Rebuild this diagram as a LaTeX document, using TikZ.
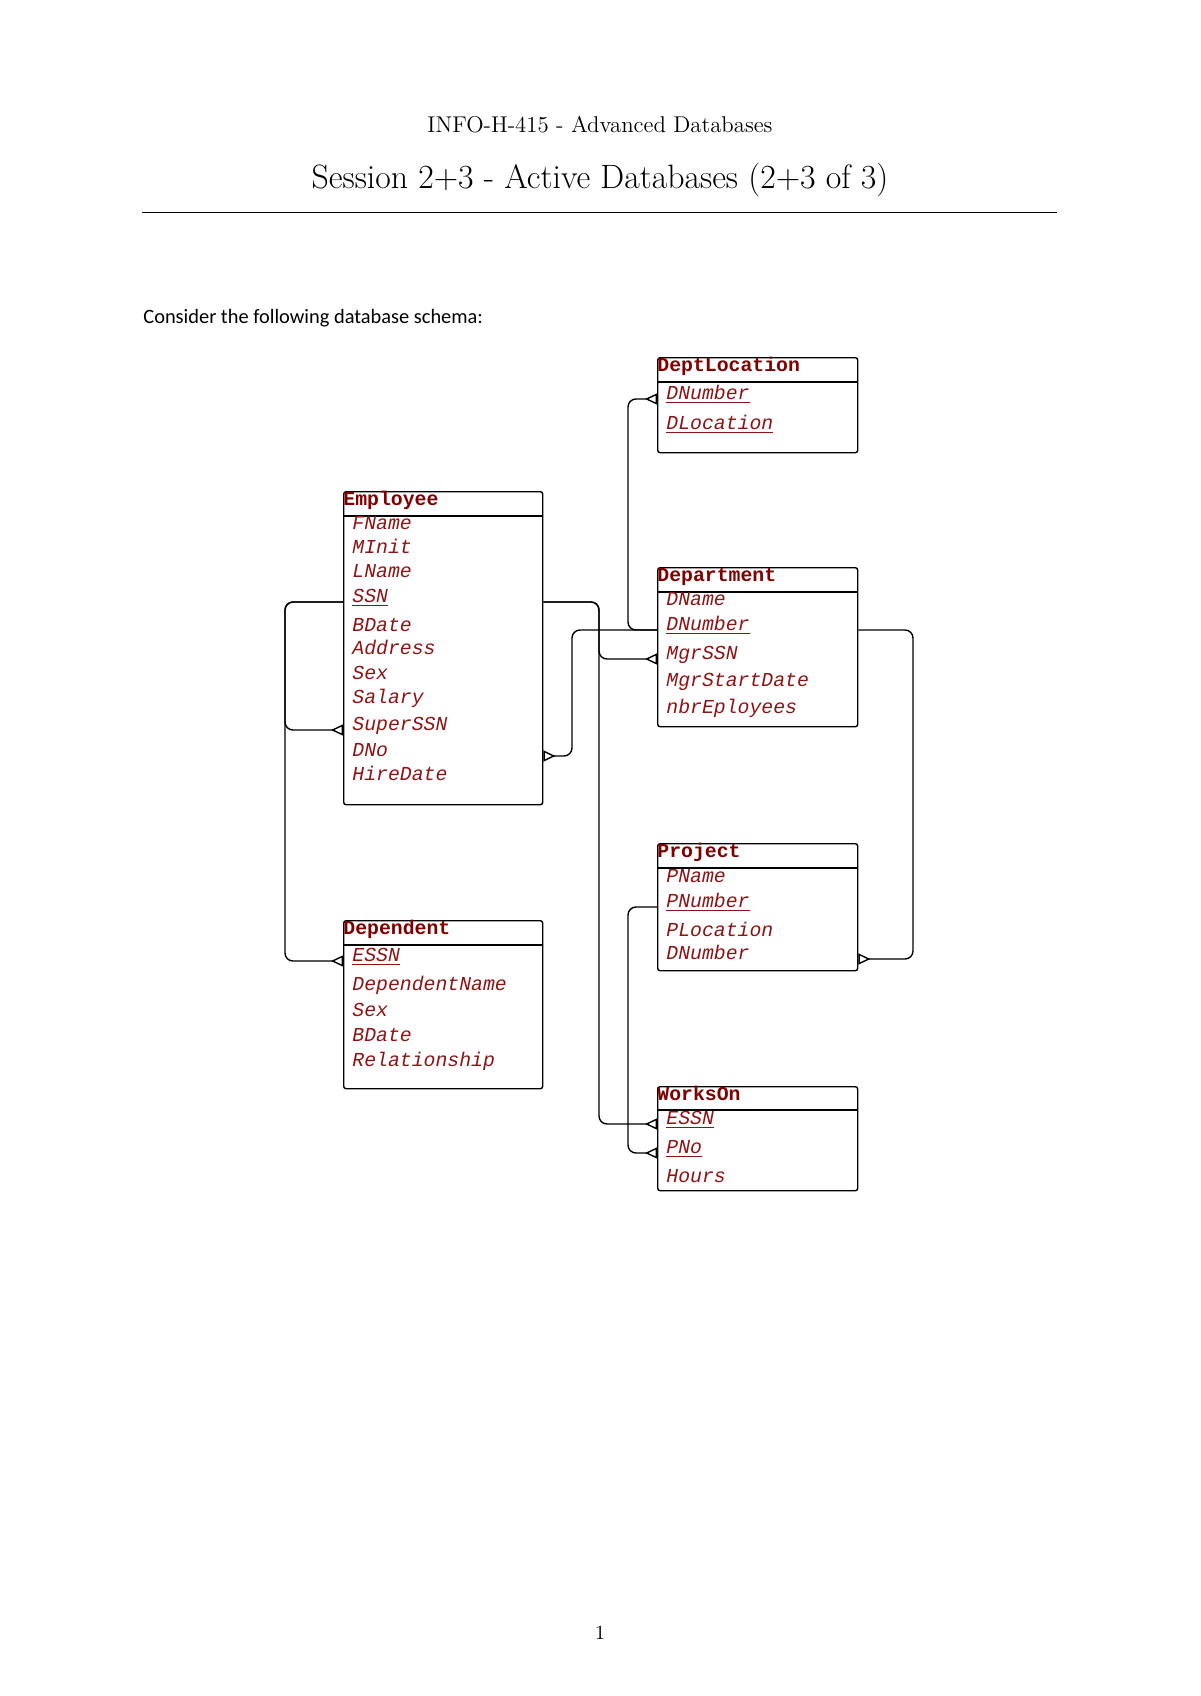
\documentclass[tikz,border=0pt]{standalone}
\usepackage{fontspec}
\newfontfamily\erfont{Liberation Mono}
\newfontfamily\sansf{Carlito}
\usetikzlibrary{arrows.meta}
\definecolor{erred}{RGB}{140,20,20}
\definecolor{ertitle}{RGB}{128,0,0}
\tikzset{
 ent/.style={draw, line width=0.7pt, rounded corners=1.2pt, anchor=north west, minimum width=100pt, inner sep=0pt},
 hline/.style={line width=0.7pt},
 etitle/.style={anchor=base west, inner sep=0pt, text=ertitle, font=\erfont\bfseries\fontsize{9.9}{12}\selectfont},
 attr/.style={anchor=base west, inner sep=0pt, text=erred, font=\erfont\itshape\fontsize{9.9}{12}\selectfont},
 conn/.style={line width=0.7pt, rounded corners=4pt},
 crow/.style={-{Triangle[open,reversed,length=6pt,width=5.5pt]}},
}
\begin{document}
\begin{tikzpicture}[x=0.5pt,y=-0.5pt]
\useasboundingbox (0,0) rectangle (1200,1696);
% page header
\node[font=\fontsize{11.4}{13}\selectfont, anchor=base, inner sep=0pt] (hdr) at (600,133) {INFO-H-415 - Advanced Databases};
\node[font=\fontsize{16.9}{20}\selectfont, anchor=base, inner sep=0pt] (ttl) at (600,189) {Session 2+3 - Active Databases (2+3 of 3)};
\draw[line width=0.8pt] (142,212.5) -- (1057,212.5);
\node[font=\sansf\fontsize{10.2}{12}\selectfont, anchor=base west, inner sep=0pt] (intro) at (143,323) {Consider the following database schema:};
\node[font=\fontsize{10}{12}\selectfont, anchor=base, inner sep=0pt] (pg) at (600,1639) {1};

% DeptLocation
\node[ent, minimum height=47.5pt] (dl) at (657,357) {};
\draw[hline] ([yshift=-12.5pt]dl.north west) -- ([yshift=-12.5pt]dl.north east);
\node[etitle] (dl-t) at (657,371) {DeptLocation};
\node[attr] (dl-dnum) at (666,399) {\underline{DNumber}};
\node[attr] (dl-dloc) at (666,429) {\underline{DLocation}};

% Employee
\node[ent, minimum width=99.5pt, minimum height=156.5pt] (emp) at (343,491) {};
\draw[hline] ([yshift=-12.5pt]emp.north west) -- ([yshift=-12.5pt]emp.north east);
\node[etitle] (emp-t) at (343,505) {Employee};
\node[attr] (emp-fname) at (352,529) {FName};
\node[attr] (emp-minit) at (352,553) {MInit};
\node[attr] (emp-lname) at (352,577) {LName};
\node[attr] (emp-ssn) at (352,602) {\underline{SSN}};
\node[attr] (emp-bdate) at (352,631) {BDate};
\node[attr] (emp-addr) at (352,654) {Address};
\node[attr] (emp-sex) at (352,679) {Sex};
\node[attr] (emp-sal) at (352,703) {Salary};
\node[attr] (emp-super) at (352,730) {SuperSSN};
\node[attr] (emp-dno) at (352,756) {DNo};
\node[attr] (emp-hire) at (352,780) {HireDate};

% Department
\node[ent, minimum height=79.5pt] (dept) at (657,567) {};
\draw[hline] ([yshift=-12.5pt]dept.north west) -- ([yshift=-12.5pt]dept.north east);
\node[etitle] (dept-t) at (657,581) {Department};
\node[attr] (dept-dname) at (666,605) {DName};
\node[attr] (dept-dnum) at (666,630) {\underline{DNumber}};
\node[attr] (dept-mgr) at (666,659) {MgrSSN};
\node[attr] (dept-mgrsd) at (666,686) {MgrStartDate};
\node[attr] (dept-nbr) at (666,713) {nbrEployees};

% Project
\node[ent, minimum height=63.5pt] (proj) at (657,843) {};
\draw[hline] ([yshift=-12.5pt]proj.north west) -- ([yshift=-12.5pt]proj.north east);
\node[etitle] (proj-t) at (657,857) {Project};
\node[attr] (proj-pname) at (666,882) {PName};
\node[attr] (proj-pnum) at (666,907) {\underline{PNumber}};
\node[attr] (proj-ploc) at (666,936) {PLocation};
\node[attr] (proj-dnum) at (666,959) {DNumber};

% Dependent
\node[ent, minimum width=99.5pt, minimum height=84pt] (dep) at (343,920) {};
\draw[hline] ([yshift=-12.5pt]dep.north west) -- ([yshift=-12.5pt]dep.north east);
\node[etitle] (dep-t) at (343,934) {Dependent};
\node[attr] (dep-essn) at (352,961) {\underline{ESSN}};
\node[attr] (dep-name) at (352,990) {DependentName};
\node[attr] (dep-sex) at (352,1016) {Sex};
\node[attr] (dep-bdate) at (352,1041) {BDate};
\node[attr] (dep-rel) at (352,1066) {Relationship};

% WorksOn
\node[ent, minimum height=52pt] (won) at (657,1086) {};
\draw[hline] ([yshift=-12pt]won.north west) -- ([yshift=-12pt]won.north east);
\node[etitle] (won-t) at (657,1100) {WorksOn};
\node[attr] (won-essn) at (666,1124) {\underline{ESSN}};
\node[attr] (won-pno) at (666,1153) {\underline{PNo}};
\node[attr] (won-hours) at (666,1182) {Hours};

% bus coordinates
\coordinate (lbus) at (285,0);
\coordinate (rbus) at (599,0);
\coordinate (mbus) at (572,0);
\coordinate (dbus) at (628,0);
\coordinate (ebus) at (913,0);

% connectors
\draw[conn,crow] (emp.west |- emp-ssn.base) -| (lbus |- emp-super.base) -- (emp.west |- emp-super.base);
\draw[conn,crow] (emp.west |- emp-ssn.base) -| (lbus |- dep-essn.base) -- (dep.west |- dep-essn.base);
\draw[conn,crow] (emp.east |- emp-ssn.base) -| (rbus |- dept-mgr.base) -- (dept.west |- dept-mgr.base);
\draw[conn,crow] (emp.east |- emp-ssn.base) -| (rbus |- won-essn.base) -- (won.west |- won-essn.base);
\draw[conn,crow] (dept.west |- dept-dnum.base) -| (mbus |- emp-dno.base) -- (emp.east |- emp-dno.base);
\draw[conn,crow] (dept.west |- dept-dnum.base) -| (dbus |- dl-dnum.base) -- (dl.west |- dl-dnum.base);
\draw[conn,crow] (dept.east |- dept-dnum.base) -| (ebus |- proj-dnum.base) -- (proj.east |- proj-dnum.base);
\draw[conn,crow] (proj.west |- proj-pnum.base) -| (dbus |- won-pno.base) -- (won.west |- won-pno.base);
\end{tikzpicture}
\end{document}
